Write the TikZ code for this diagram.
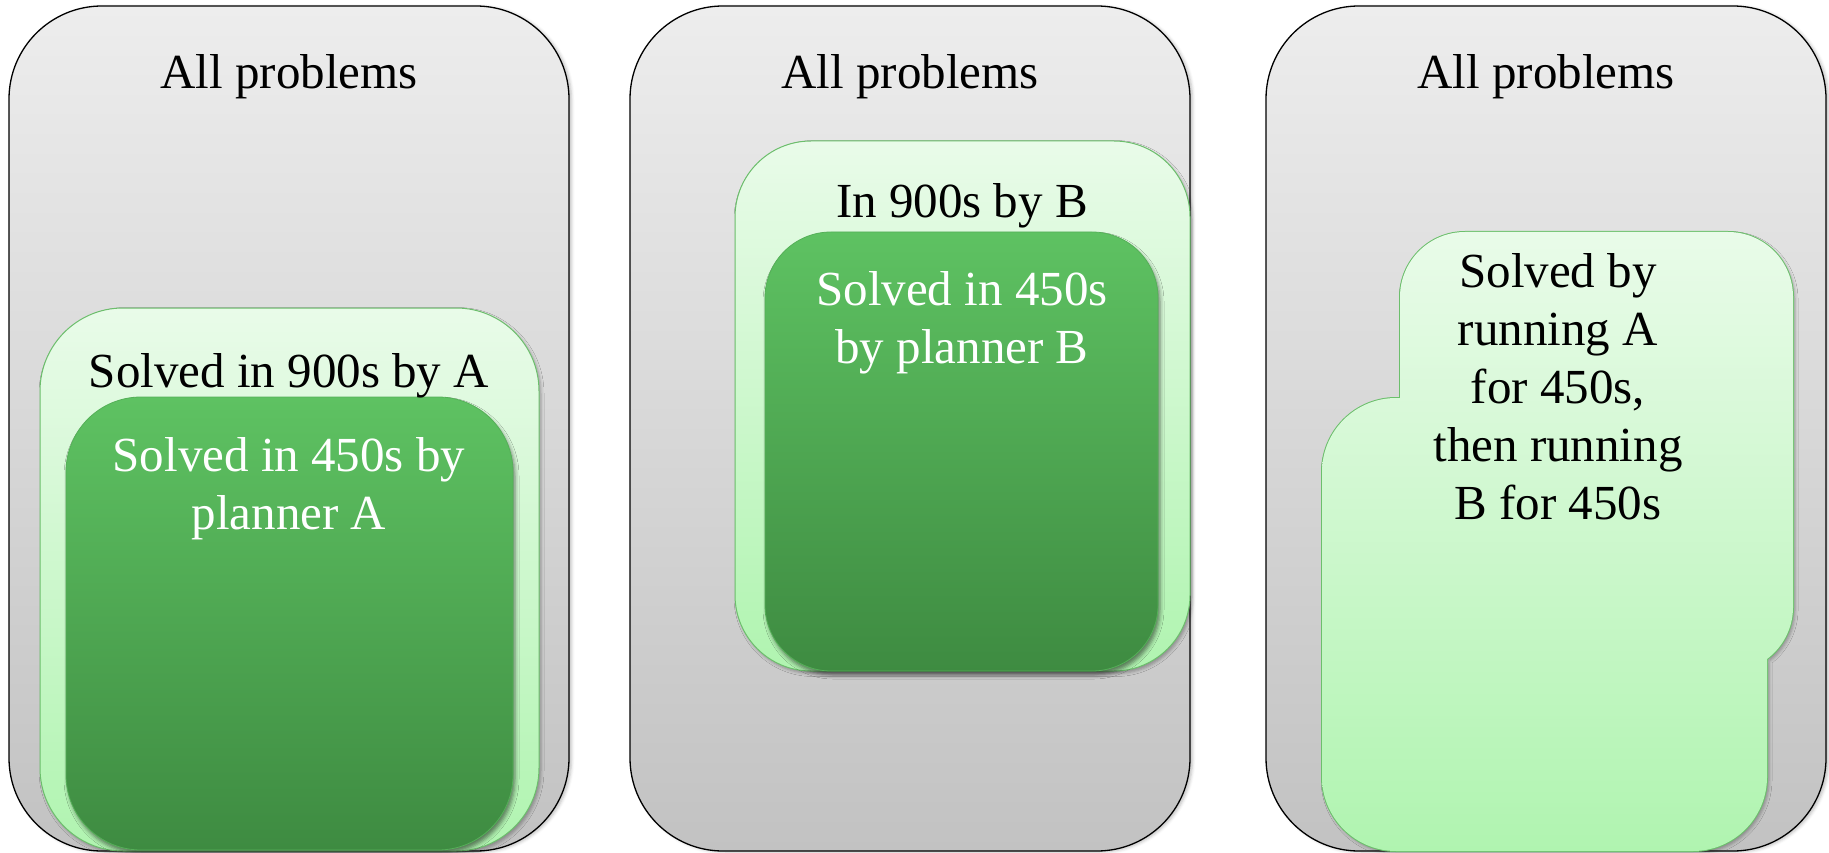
\documentclass[tikz,border=0pt]{standalone}
\usepackage{fontspec}
\setmainfont{Liberation Serif}
\usetikzlibrary{shadows.blur}
\definecolor{panTop}{HTML}{EDEDED}
\definecolor{panBot}{HTML}{C2C2C2}
\definecolor{ltTop}{HTML}{E9FBE9}
\definecolor{ltBot}{HTML}{B0F4B0}
\definecolor{ltLine}{HTML}{6CBF6C}
\definecolor{dkTop}{HTML}{5EC262}
\definecolor{dkBot}{HTML}{3E8B41}
\definecolor{dkLine}{HTML}{55B058}
\begin{document}
\begin{tikzpicture}[x=1pt,y=-1pt,
  boxbase/.style={rectangle, inner sep=0pt, outer sep=0pt, anchor=north west},
  panel/.style={boxbase, draw=black, line width=1.3pt, top color=panTop, bottom color=panBot,
    rounded corners=93pt,
    blur shadow={shadow xshift=2.5pt, shadow yshift=-1pt, shadow opacity=25, shadow blur radius=3pt}},
  lightbox/.style={boxbase, draw=ltLine, line width=1pt, top color=ltTop, bottom color=ltBot,
    blur shadow={shadow xshift=2pt, shadow yshift=-2.5pt, shadow opacity=30, shadow blur radius=3pt}},
  darkbox/.style={boxbase, draw=dkLine, line width=0.8pt, top color=dkTop, bottom color=dkBot,
    blur shadow={shadow xshift=2pt, shadow yshift=-4pt, shadow opacity=50, shadow blur radius=4pt}},
  lbl/.style={inner sep=0pt, anchor=base, align=center, font=\fontsize{49}{58}\selectfont},
  dklbl/.style={lbl, text=white}
]
\useasboundingbox (0,0) rectangle (1829,853);

% outer panels
\node[panel, minimum width=560pt, minimum height=845pt] (p1) at (9,6) {};
\node[panel, minimum width=560pt, minimum height=845pt] (p2) at (630,6) {};
\node[panel, minimum width=560pt, minimum height=845pt] (p3) at (1266,6) {};

% panel 1
\node[lightbox, rounded corners=83pt, minimum width=499pt, minimum height=543pt] (a900) at (40,308) {};
\node[darkbox, rounded corners=75pt, minimum width=447pt, minimum height=453pt] (a450) at (66,397) {};

% panel 2
\node[lightbox, rounded corners=76pt, minimum width=455pt, minimum height=530pt] (b900) at (735,141) {};
\node[darkbox, rounded corners=66pt, minimum width=393pt, minimum height=439pt] (b450) at (765,232) {};

% panel 3: union of two rounded rectangles
\path[blur shadow={shadow xshift=2pt, shadow yshift=-2.5pt, shadow opacity=30, shadow blur radius=3pt}]
  [rounded corners=65pt] (1400,232) rectangle (1793,672)
  [rounded corners=74pt] (1322,398) rectangle (1767,851);
\draw[ltLine, line width=2pt]
  [rounded corners=65pt] (1400,232) rectangle (1793,672)
  [rounded corners=74pt] (1322,398) rectangle (1767,851);
\begin{scope}
  \clip [rounded corners=65pt] (1400,232) rectangle (1793,672)
        [rounded corners=74pt] (1322,398) rectangle (1767,851);
  \shade[top color=ltTop, bottom color=ltBot] (1300,232) rectangle (1800,851);
\end{scope}

% labels (multi-line nodes: base = baseline of last line)
\node[lbl] (all1) at (289,89) {All problems};
\node[lbl] (all2) at (910,89) {All problems};
\node[lbl] (all3) at (1546,89) {All problems};

\node[lbl] (l900a) at (289,387) {Solved in 900s by A};
\node[dklbl] (l450a) at (289,529) {Solved in 450s by\\planner A};

\node[lbl] (l900b) at (962,218) {In 900s by B};
\node[dklbl] (l450b) at (962,363) {Solved in 450s\\by planner B};

\node[lbl] (lab) at (1558,519) {Solved by\\running A\\for 450s,\\then running\\B for 450s};
\end{tikzpicture}
\end{document}
